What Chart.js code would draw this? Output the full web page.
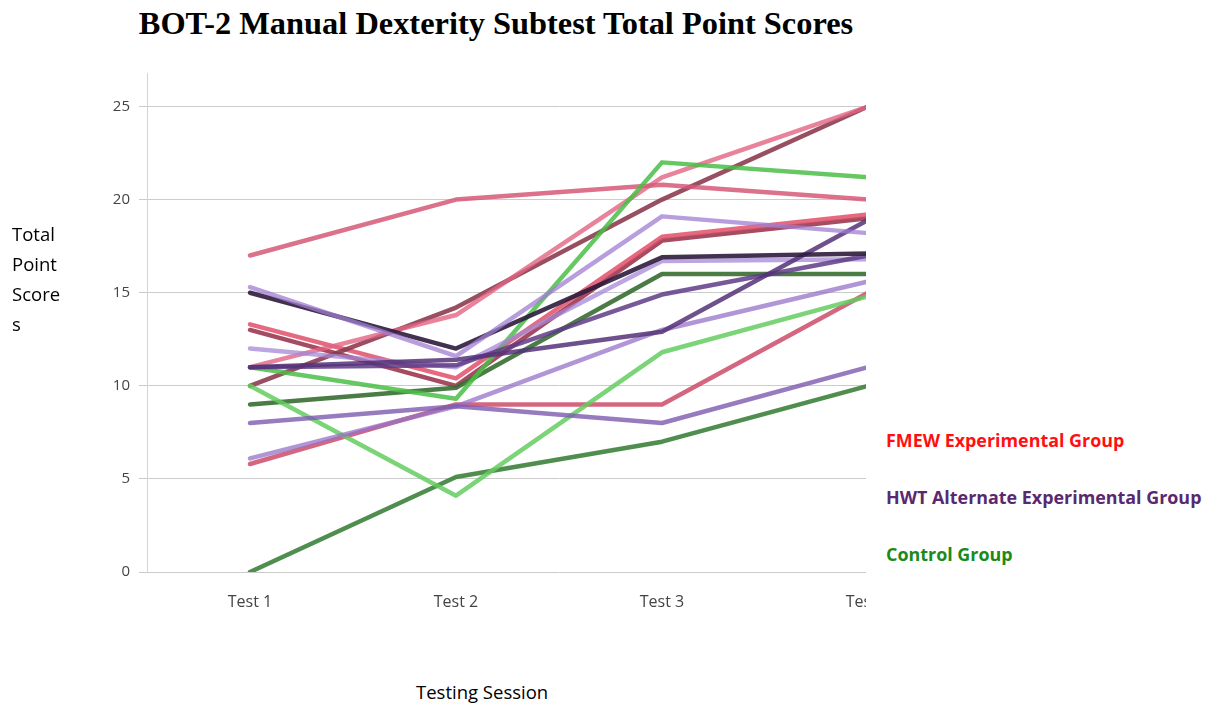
<!DOCTYPE html>
<html>
<head>
<meta charset="utf-8">
<script src="https://cdn.jsdelivr.net/npm/chart.js@4.4.1/dist/chart.umd.min.js"></script>
<style>
  body { margin: 0; background: #fff; width: 1212px; height: 706px; position: relative; overflow: hidden; }
  #title { position: absolute; left: 0; width: 992px; top: 5px; text-align: center;
    font: bold 32.4px "Liberation Serif", serif; color: #000; }
  #plotBox { position: absolute; left: 0; top: 0; width: 866px; height: 640px; overflow: hidden; }
  #yTitle { position: absolute; left: 12px; top: 219px; font: 18.5px "Open Sans", sans-serif; line-height: 30px; color: #000; }
  #xTitle { position: absolute; left: 416px; top: 679px; font: 18.5px "Open Sans", sans-serif; color: #000; }
  .key { position: absolute; left: 886px; font: bold 17.9px "Open Sans", sans-serif; }
</style>
</head>
<body>
<div id="title">BOT-2 Manual Dexterity Subtest Total Point Scores</div>
<div id="plotBox"><canvas id="scoreChart" width="971" height="640"></canvas></div>
<div id="yTitle">Total<br>Point<br>Score<br>s</div>
<div id="xTitle">Testing Session</div>
<div class="key" style="top:428px;color:#ff1010">FMEW Experimental Group</div>
<div class="key" style="top:485px;color:#5a2870">HWT Alternate Experimental Group</div>
<div class="key" style="top:542px;color:#1a8a1a">Control Group</div>

<script>
const sessions = ["Test 1", "Test 2", "Test 3", "Test 4"];
const yTicks = [0, 5, 10, 15, 20, 25];

// one row per child
const fmewScores = [
  [17, 20, 20.8, 20],
  [11, 13.8, 21.2, 25],
  [10, 14.2, 20, 25],
  [13.3, 10.4, 18, 19.2],
  [13, 10, 17.8, 19],
  [5.8, 9, 9, 15],
];
const hwtScores = [
  [15.3, 11.6, 19.1, 18.2],
  [15, 12, 16.9, 17.1],
  [11, 11.4, 12.9, 18.9],
  [11, 11.1, 14.9, 17],
  [12, 11, 16.7, 16.8],
  [8, 8.9, 8, 11],
  [6.1, 8.9, 13, 15.6],
];
const controlScores = [
  [11, 9.3, 22, 21.2],
  [10, 4.1, 11.8, 14.8],
  [9, 9.9, 16, 16],
  [0, 5.1, 7, 10],
];

const fmewColors = ["rgba(214,88,120,0.85)", "rgba(226,100,130,0.8)", "rgba(140,60,80,0.9)",
  "rgba(226,80,105,0.85)", "rgba(150,45,70,0.85)", "rgba(205,75,105,0.85)"];
const hwtColors = ["rgba(160,125,210,0.75)", "rgba(45,28,60,0.9)", "rgba(85,50,120,0.85)",
  "rgba(95,60,135,0.85)", "rgba(165,135,215,0.75)", "rgba(125,90,175,0.8)", "rgba(150,115,200,0.75)"];
const controlColors = ["rgba(75,190,70,0.85)", "rgba(100,205,95,0.85)", "rgba(55,110,50,0.9)", "rgba(60,130,60,0.9)"];

function makeSets(rows, colors) {
  return rows.map((row, i) => ({
    data: row,
    borderColor: colors[i % colors.length],
    borderWidth: 4.5,
    pointRadius: 0,
    tension: 0,
    borderJoinStyle: "round",
    borderCapStyle: "round",
  }));
}

const ctx = document.getElementById("scoreChart").getContext("2d");
const scoreChart = new Chart(ctx, {
  type: "line",
  data: {
    labels: sessions,
    datasets: [
      ...makeSets(hwtScores, hwtColors),
      ...makeSets(controlScores, controlColors),
      ...makeSets(fmewScores, fmewColors),
    ],
  },
  options: {
    responsive: false,
    animation: false,
    layout: { padding: { top: 73, left: 0, right: 0, bottom: 0 } },
    plugins: { legend: { display: false }, tooltip: { enabled: false } },
    scales: {
      x: {
        offset: true,
        grid: { display: false },
        border: { display: false },
        ticks: { color: "#444", padding: 13, font: { family: "Open Sans", size: 16 } },
        afterFit: (scale) => { scale.height = 68; },
      },
      y: {
        min: 0,
        max: 26.8,
        ticks: { stepSize: 5, color: "#444", padding: 9, font: { family: "Open Sans", size: 15 } },
        afterBuildTicks: (scale) => { scale.ticks = yTicks.map((v) => ({ value: v })); },
        grid: { color: "#cbcbcb", tickLength: 8 },
        border: { color: "#d4d4d4" },
        afterFit: (scale) => { scale.width = 147; },
      },
    },
  },
});
</script>
</body>
</html>
